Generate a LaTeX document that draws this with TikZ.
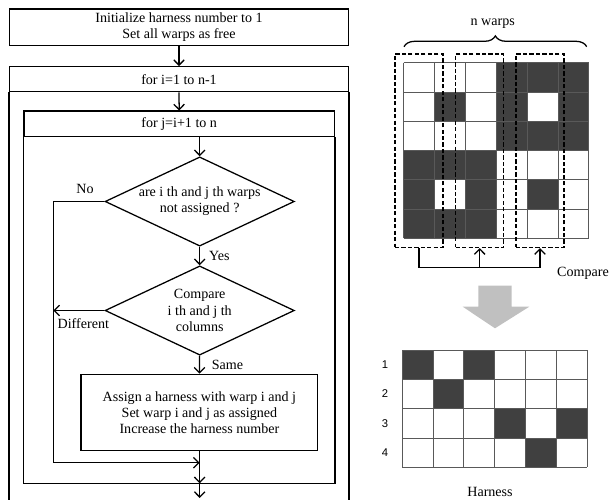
\documentclass[tikz,border=0pt]{standalone}
\usepackage{fontspec}
\setmainfont{Liberation Serif}
\newfontfamily\numfont{Liberation Sans}
\usetikzlibrary{arrows.meta,shapes.geometric,decorations.pathreplacing}
\definecolor{cellgray}{RGB}{64,64,64}
\definecolor{bigarrow}{RGB}{192,192,192}
\tikzset{>={Straight Barb[length=3.8pt,width=7.5pt]}}
\tikzset{
  box/.style={draw,line width=0.9pt,align=center,inner sep=1pt},
  decision/.style={draw,diamond,line width=0.9pt,align=center,inner sep=0pt,
    shape aspect=2.12,minimum width=4.73cm,minimum height=2.23cm},
  flow/.style={line width=0.9pt},
  warpbox/.style={draw,dashed,line width=1pt,dash pattern=on 3pt off 1.6pt,
    minimum width=1.2cm,minimum height=4.83cm},
  gridline/.style={black!65,line width=0.6pt},
}

\begin{document}
\begin{tikzpicture}[x=0.025cm,y=-0.025cm,font=\fontsize{10}{11.5}\selectfont]
  \useasboundingbox (0,0) rectangle (610,499);

  % flowchart
  \node[box,minimum width=8.46cm,minimum height=0.92cm] at (179,27.3) (init)
    {Initialize harness number to 1\\Set all warps as free};
  \node[box,minimum width=8.46cm,minimum height=0.625cm] at (179,79.2) (fori)
    {for i=1 to n-1};
  \draw[flow] (fori.south west) -- (fori.south west |- 0,499.5);
  \draw[flow] (fori.south east) -- (fori.south east |- 0,499.5);
  \node[box,minimum width=7.76cm,minimum height=0.64cm] at (179.2,123.9) (forj)
    {for j=i+1 to n};
  \draw[flow] (forj.south west) -- (forj.south west |- 0,483.3) coordinate (jbl)
    -- (forj.south east |- 0,483.3) coordinate (jbr) -- (forj.south east);

  \node[decision] at (199.7,201.5) (free) {are i th and j th warps\\not assigned ?};
  \node[decision] at (199.7,310.5) (cmp) {Compare\\i th and j th\\columns};
  \node[box,minimum width=5.92cm,minimum height=1.91cm] at (199.4,412.5) (assign)
    {Assign a harness with warp i and j\\Set warp i and j as assigned\\Increase the harness number};
  \coordinate (join) at (199.7,462.7);
  \coordinate (jend) at (199.7,483.3);
  \coordinate (left) at (53.3,462.7);

  \draw[flow,->] (init) -- (fori);
  \draw[flow,->] (fori.south) -- (forj.north);
  \draw[flow,->] (forj.south -| free.north) -- (free.north);
  \draw[flow,->] (free) -- node[right,xshift=3pt] {Yes} (cmp);
  \draw[flow,->] (cmp) -- node[right,xshift=5pt] {Same} (assign);
  \draw[flow] (assign.south -| join) -- (join);
  \draw[flow,->] (free.west) -- (free.west -| left) -- (left) -- (join);
  \draw[flow,->] (cmp.west) -- (cmp.west -| left);
  \draw[flow,->] (join) -- (jend);
  \draw[flow,->] (jend) -- (199.7,498);
  \node[] at (85,189.3) (no) {No};
  \node[] at (83.3,324) (diff) {Different};

  % warps
  \foreach \r/\cells in {0/{3,4,5},1/{1,3,5},2/{3,4,5},3/{0,1,2},4/{0,2,4},5/{0,1,2}}
    \foreach \c in \cells
      \fill[cellgray] ({403.5+\c*30.9},{62.7+\r*29.27}) rectangle ++(30.9,29.27);
  \foreach \i in {0,...,6} {
    \draw[gridline] ({403.5+\i*30.9},62.7) -- ++(0,175.6);
    \draw[gridline] (403.5,{62.7+\i*29.27}) -- ++(185.4,0);
  }
  \draw[line width=0.9pt,decorate,decoration={brace,amplitude=0.27cm}]
    (404,46.7) -- (586.7,46.7);
  \node[font=\fontsize{10}{12}\selectfont] at (492.7,23.3) (nw) {n warps};

  \node[warpbox] at (418.9,150.8) (w1) {};
  \node[warpbox] at (479.7,150.8) (w2) {};
  \node[warpbox] at (540,150.8) (w3) {};
  \coordinate (base) at (418.9,267.7);
  \draw[flow,->] (w1.south) -- (base) -| (w3.south);
  \draw[flow,->] (base -| w2.south) -- (w2.south);
  \node[font=\fontsize{10}{12}\selectfont] at (583,273.3) (cmplabel) {Compare};

  \fill[bigarrow] (478.3,285.7) -- (511.7,285.7) -- (511.7,306.7) -- (529.3,306.7)
    -- (495,328.3) -- (462.7,306.7) -- (478.3,306.7) -- cycle;

  % harness
  \foreach \r/\cells in {0/{0,2},1/{1},2/{3,5},3/{4}}
    \foreach \c in \cells
      \fill[cellgray] ({402.3+\c*30.8},{350+\r*29.33}) rectangle ++(30.8,29.33);
  \foreach \i in {0,...,6}
    \draw[gridline] ({402.3+\i*30.8},350) -- ++(0,117.3);
  \foreach \i in {0,...,4}
    \draw[gridline] (402.3,{350+\i*29.33}) -- ++(184.8,0);
  \foreach \i in {1,...,4}
    \node[font=\numfont\fontsize{8}{9}\selectfont] at (385,{335.3+\i*29.33}) (h\i) {\i};
  \node[font=\fontsize{10}{12}\selectfont] at (490,491.7) (hlabel) {Harness};
\end{tikzpicture}
\end{document}
